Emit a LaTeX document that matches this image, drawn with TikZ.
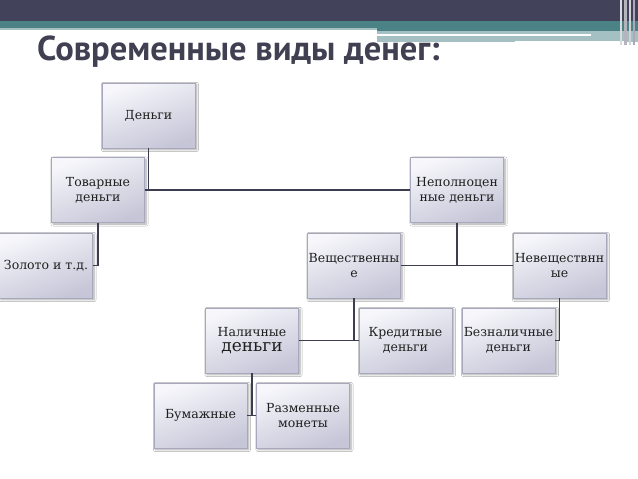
\documentclass[tikz,border=0pt]{standalone}
\usepackage{fontspec}
\setmainfont{DejaVu Serif}
\newfontfamily\titlefont{PT Sans}
\usetikzlibrary{shadows.blur}
\definecolor{darkband}{HTML}{42435A}
\definecolor{tealband}{HTML}{4A8286}
\definecolor{lightteal}{HTML}{A4C0C3}
\definecolor{titlecol}{HTML}{404052}
\definecolor{boxtop}{HTML}{F6F6FB}
\definecolor{boxbot}{HTML}{C6C6D8}
\definecolor{boxline}{HTML}{A8A8BC}
\definecolor{linkcol}{HTML}{3D3D52}
\tikzset{
  box/.style={draw=boxline, line width=0.6pt, shading=axis, top color=boxtop, bottom color=boxbot, shading angle=20,
    minimum width=93pt, minimum height=65pt, inner sep=0pt, align=center, text=black!88,
    font=\fontsize{12.5}{15}\selectfont,
    blur shadow={shadow xshift=1.5pt, shadow yshift=-1.5pt, shadow blur steps=6, shadow opacity=35}},
  link/.style={draw=linkcol, line width=1.4pt}
}
\begin{document}
\begin{tikzpicture}[x=1pt,y=-1pt]
\useasboundingbox (0,0) rectangle (638,479);
\fill[white] (0,0) rectangle (638,479);
% header
\fill[darkband] (0,0) rectangle (638,21);
\fill[tealband] (0,21) rectangle (638,28);
\fill[lightteal] (0,28) rectangle (377,30);
\fill[tealband] (377,28) rectangle (638,31);
\fill[lightteal] (377,31) rectangle (638,42);
\fill[white] (377,34) rectangle (591,36);
\fill[white] (515,41) rectangle (626,44);
\fill[white!80!darkband] (620,0) rectangle (622,45);
\fill[white!60!darkband] (624,0) rectangle (627,45);
\fill[white!75!darkband] (629,0) rectangle (631,45);
\fill[white!55!darkband] (633,0) rectangle (635,45);
\node[anchor=base west, inner sep=0pt, text=titlecol, font=\titlefont\bfseries\fontsize{34.5}{38}\selectfont] (title) at (37,60) {Современные виды денег:};
% boxes
\node[box] (den) at (148.5,115.5) {Деньги};
\node[box] (tov) at (98,190) {Товарные\\деньги};
\node[box] (zol) at (46,265.5) {Золото и т.д.};
\node[box] (nep) at (457,190) {Неполноцен\\ные деньги};
\node[box] (vesh) at (354,265.5) {Вещественны\\е};
\node[box] (nevesh) at (559.5,265.5) {Невеществнн\\ые};
\node[box] (nal) at (252,340.5) {Наличные\\{\fontsize{17}{19}\selectfont деньги}};
\node[box] (kred) at (405.5,340.5) {Кредитные\\деньги};
\node[box] (bezn) at (508.5,340.5) {Безналичные\\деньги};
\node[box] (bum) at (200.5,415.5) {Бумажные};
\node[box] (razm) at (303,415.5) {Разменные\\монеты};
% connectors
\draw[link] (den.south) -- (den.south |- tov.east);
\draw[link] (tov.east) -- (nep.west);
\draw[link] (tov.south) |- (zol.east);
\draw[link] (nep.south) -- (nep.south |- vesh.east);
\draw[link] (vesh.east) -- (nevesh.west);
\draw[link] (vesh.south) -- (vesh.south |- nal.east);
\draw[link] (nal.east) -- (kred.west);
\draw[link] (nevesh.south) |- (bezn.east);
\draw[link] (nal.south) -- (nal.south |- bum.east);
\draw[link] (bum.east) -- (razm.west);
\end{tikzpicture}
\end{document}
